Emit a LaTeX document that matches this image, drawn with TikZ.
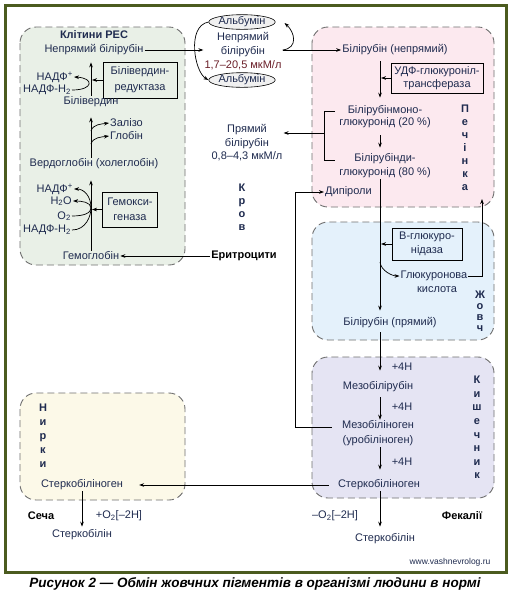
\documentclass[tikz,border=0pt]{standalone}
\usepackage{fontspec}
\setmainfont{Liberation Sans}
\usetikzlibrary{arrows.meta,shapes.geometric,calc}
\definecolor{txt}{HTML}{1F2B4F}
\definecolor{frm}{HTML}{4B5B1F}
\definecolor{resc}{HTML}{E9F0E7}
\definecolor{livc}{HTML}{FCE9EF}
\definecolor{bilc}{HTML}{E4F1FB}
\definecolor{intc}{HTML}{E5E4F3}
\definecolor{kidc}{HTML}{FCF9E8}
\definecolor{redt}{HTML}{6A1E28}
\definecolor{dashc}{HTML}{707070}
\begin{document}
\begin{tikzpicture}[x=1pt,y=-1pt,
 every node/.style={text=txt, font=\fontsize{11}{13}\selectfont, inner sep=1pt},
 region/.style={draw=dashc, line width=0.9pt, dash pattern=on 7pt off 4pt, rounded corners=16pt},
 enz/.style={draw=black, line width=0.7pt, align=center, inner sep=2pt},
 vert/.style={align=center},
 arr/.style={-{Stealth[length=5pt,width=3.6pt]}, line width=0.7pt},
 ln/.style={line width=0.7pt},
 alb/.style={ellipse, draw=black, fill=gray!12, inner sep=0pt, minimum height=10pt, line width=0.6pt}
]
\useasboundingbox (0,0) rectangle (510,595);
\fill[white] (0,0) rectangle (510,595);
\draw[line width=3pt, draw=frm] (5,5) rectangle (506,572);

% regions
\draw[region, fill=resc] (20,27) rectangle (185,265);
\draw[region, fill=livc] (312,27) rectangle (494,207);
\draw[region, fill=bilc] (312,222) rectangle (494,340);
\draw[region, fill=intc] (312,357) rectangle (494,498);
\draw[region, fill=kidc] (20,393) rectangle (185,500);

% helper coordinates
\coordinate (v0) at (91,0);
\coordinate (v1) at (380,0);

% RES cells
\node[font=\bfseries\fontsize{11}{13}\selectfont] (restitle) at (94,35) {Клітини РЕС};
\node (resnb) at (94,50) {Непрямий білірубін};
\node[anchor=east] (nadpa) at (74,77) {НАДФ\textsuperscript{+}};
\node[anchor=east] (nadpha) at (72,90) {НАДФ-Н\textsubscript{2}};
\node[enz, minimum width=74pt, minimum height=36pt, font=\fontsize{11}{16}\selectfont] (bvr) at (140,80) {Білівердин-\\редуктаза};
\node (biliv) at (91,102) {Білівердин};
\node[anchor=west] (zalizo) at (109,123) {Залізо};
\node[anchor=west] (globin) at (109,136) {Глобін};
\node (verdo) at (94,164) {Вердоглобін (холеглобін)};
\node[anchor=east] (nadpb) at (74,189) {НАДФ\textsuperscript{+}};
\node[anchor=east] (h2o) at (73,201) {Н\textsubscript{2}О};
\node[anchor=east] (o2) at (72,216) {О\textsubscript{2}};
\node[anchor=east] (nadphb) at (72,230) {НАДФ-Н\textsubscript{2}};
\node[enz, minimum width=55pt, minimum height=35pt, font=\fontsize{11}{15}\selectfont] (hox) at (130,209.5) {Гемокси-\\геназа};
\node (hemo) at (91,256) {Гемоглобін};
\node[font=\bfseries\fontsize{11}{13}\selectfont, text=black] (eryth) at (244,256) {Еритроцити};

% blood
\node[alb] (alba) at (242,22) {Альбумін};
\node[align=center, font=\fontsize{11}{14}\selectfont] (nb) at (243,51) {Непрямий\\білірубін\\\textcolor{redt}{1,7–20,5 мкМ/л}};
\node[alb] (albb) at (242,80) {Альбумін};
\node[align=center, font=\fontsize{11}{13.5}\selectfont] (db) at (247,143) {Прямий\\білірубін\\0,8–4,3 мкМ/л};
\node[vert, font=\bfseries\fontsize{11}{13}\selectfont] (krov) at (242,207) {К\\р\\о\\в};

% liver
\node (bn) at (395,50) {Білірубін (непрямий)};
\node[enz, minimum width=92pt, minimum height=30pt, font=\fontsize{11}{13}\selectfont] (udf) at (437,78) {УДФ-глюкуроніл-\\трансфераза};
\node (bmga) at (385,111) {Білірубінмоно-};
\node (bmgb) at (385,123) {глюкуронід (20 \%)};
\node (bdga) at (385,159) {Білірубінди-};
\node (bdgb) at (385,173) {глюкуронід (80 \%)};
\node[anchor=west] (dipir) at (324,192) {Дипіроли};
\node[vert, font=\bfseries\fontsize{11}{13}\selectfont] (pech) at (465,148) {П\\е\\ч\\і\\н\\к\\а};

% bile
\node[enz, minimum width=70pt, minimum height=32pt, font=\fontsize{11}{14}\selectfont] (bglu) at (427,244) {В-глюкуро-\\нідаза};
\node (gluka) at (434,276) {Глюкуронова};
\node (glukb) at (437,290) {кислота};
\node (bp) at (390,323) {Білірубін (прямий)};
\node[vert, font=\bfseries\fontsize{11}{11}\selectfont] (zhovch) at (480,311) {Ж\\о\\в\\ч};

% intestine
\node (mbr) at (378,387) {Мезобілірубін};
\node (hh1) at (402,367) {+4Н};
\node (hh2) at (402,407) {+4Н};
\node (hh3) at (402,462) {+4Н};
\node (mbga) at (378,425) {Мезобіліноген};
\node (mbgb) at (378,441) {(уробіліноген)};
\node (stg) at (379,485) {Стеркобіліноген};
\node[vert, font=\bfseries\fontsize{11}{13.6}\selectfont] (kish) at (477,427.5) {К\\и\\ш\\е\\ч\\н\\и\\к};
\node (omin) at (335,516) {–О\textsubscript{2}[–2Н]};
\node[font=\bfseries\fontsize{11}{13}\selectfont, text=black] (fek) at (462,516) {Фекалії};
\node (stb) at (385,539) {Стеркобілін};
\node[font=\fontsize{8.5}{10}\selectfont] (www) at (450,562) {www.vashnevrolog.ru};

% kidneys
\node[vert, font=\bfseries\fontsize{11}{14}\selectfont] (nyrky) at (43,436) {Н\\и\\р\\к\\и};
\node (kstg) at (82,485) {Стеркобіліноген};
\node[font=\bfseries\fontsize{11}{13}\selectfont, text=black] (secha) at (41,516) {Сеча};
\node (oplus) at (119,516) {+О\textsubscript{2}[–2Н]};
\node (kstb) at (82,535) {Стеркобілін};

% caption
\node[font=\bfseries\itshape\fontsize{13.5}{15}\selectfont, text=black] (cap) at (255,584) {Рисунок 2 — Обмін жовчних пігментів в організмі людини в нормі};

% ---- connectors: RES
\draw[arr, shorten >=6pt] (biliv.north) -- (biliv.north |- resnb.south);
\draw[arr, shorten >=1pt] (bvr.west) -- (v0 |- bvr.west);
\draw[arr] (nadpha.east) .. controls +(22,0) and +(20,1) .. (nadpa.east);
\coordinate (zl) at (91,131);
\coordinate (gl) at (91,144);
\draw[arr] (zl) .. controls +(2,-7) and +(-7,1) .. (zalizo.west);
\draw[arr] (gl) .. controls +(2,-7) and +(-7,1) .. (globin.west);
\draw[arr, shorten >=9pt] (verdo.north -| v0) -- (v0 |- biliv.south);
\draw[arr, shorten >=10pt] (hemo.north) -- (hemo.north |- verdo.south);
\draw[arr, shorten >=1pt] (hox.west) -- (v0 |- hox.west);
\coordinate (hm) at (91,208);
\draw[ln] (o2.east) .. controls +(12,0) and +(0,5) .. (hm);
\draw[ln] (nadphb.east) .. controls +(14,0) and +(0,8) .. (hm);
\draw[arr] (hm) .. controls +(0,-6) and +(8,0) .. (h2o.east);
\draw[arr] (hm) .. controls +(0,-12) and +(10,0) .. (nadpb.east);
\draw[arr] (eryth.west) -- (hemo.east);

% ---- blood
\draw[arr] (resnb.east) -- (nb.west |- resnb.east);
\draw[arr] (nb.east |- bn.west) -- (bn.west);
\draw[arr] (nb.east |- bn.west) .. controls +(16,-2) and +(10,9) .. ($(alba.east)+(9,1)$);
\draw[arr] (alba.west) .. controls +(-22,4) and +(-14,-8) .. (albb.west);

% ---- liver
\draw[arr, shorten <=5pt, shorten >=7pt] (bn.south -| v1) -- (bmga.north -| v1);
\draw[arr, shorten >=1pt] (udf.west) -- (v1 |- udf.west);
\draw[arr, shorten <=6pt, shorten >=5pt] (bmgb.south -| v1) -- (bdga.north -| v1);
\coordinate (brt) at (335,111);
\coordinate (brb) at (335,160);
\coordinate (brx) at (324,133);
\draw[ln] (brt) -- (brt -| brx) -- (brb -| brx) -- (brb);
\draw[arr] (brx) -- (db.east |- brx);
\coordinate (dpx) at (295,0);
\draw[arr] ($(mbga.west)+(-9,2)$) -- (dpx |- 0,427) |- (dipir.west);

% ---- bile
\draw[arr, shorten >=6pt] (bdgb.south -| v1) -- (bp.north -| v1);
\draw[arr, shorten >=1pt] (bglu.west) -- (v1 |- bglu.west);
\coordinate (gc) at (380,262);
\draw[arr] (gc) .. controls +(1,9) and +(-7,0) .. (gluka.west);
\coordinate (gup) at (482,199);
\draw[arr] (gluka.east) -- (gluka.east -| gup) -- (gup);

% ---- intestine
\draw[arr, shorten <=3pt, shorten >=10pt] (bp.south -| v1) -- (mbr.north -| v1);
\draw[arr, shorten <=4pt] (mbr.south -| v1) -- (mbga.north -| v1);
\draw[arr, shorten >=9pt] (mbgb.south -| v1) -- (stg.north -| v1);
\draw[arr, shorten <=8pt, shorten >=15pt] (stg.west) -- (kstg.east);
\draw[arr, shorten >=6pt] (stg.south -| v1) -- (stb.north -| v1);
\draw[arr, shorten >=2pt] (kstg.south) -- (kstb.north);
\end{tikzpicture}
\end{document}
